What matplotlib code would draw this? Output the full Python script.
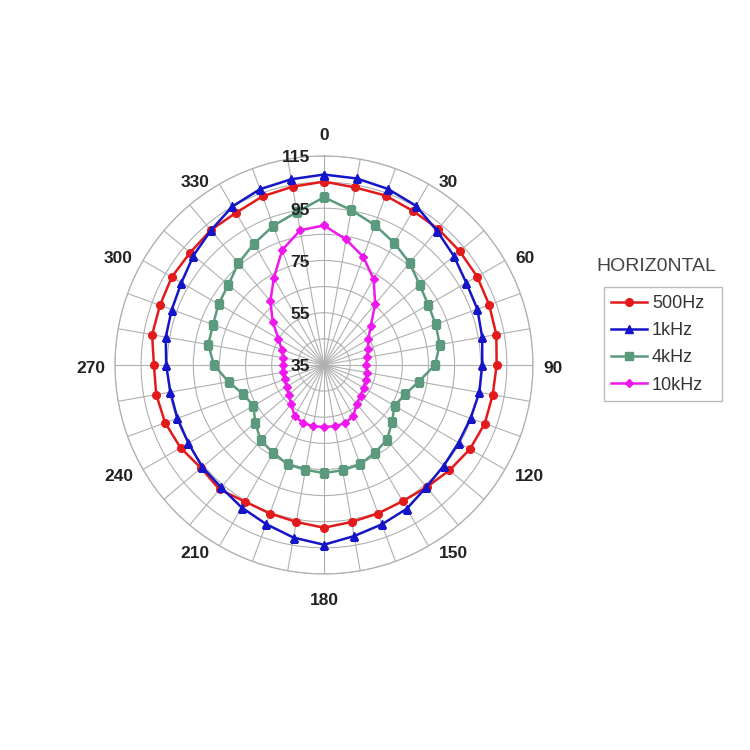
import numpy as np
import matplotlib
matplotlib.use("Agg")
import matplotlib.pyplot as plt

plt.rcParams['font.family'] = ['Liberation Sans', 'DejaVu Sans']

# ---- data -------------------------------------------------------------
angles_deg = list(range(0, 360, 10))

series_names = ["500Hz", "1kHz", "4kHz", "10kHz"]

spl_500hz = [105.2, 104.0, 104.0, 103.1, 103.0, 102.8, 102.7, 102.3, 102.0,
             101.1, 100.6, 100.5, 99.5, 97.7, 96.1, 95.2, 95.5, 96.0,
             97.3, 96.0, 95.5, 95.4, 97.2, 96.4, 98.4, 99.7, 100.2,
             100.1, 101.8, 101.8, 102.3, 101.9, 102.4, 102.3, 103.7, 104.3]

spl_1khz = [107.9, 107.5, 106.7, 105.4, 102.2, 99.9, 97.9, 97.5, 96.5,
            95.6, 95.4, 94.7, 94.5, 94.9, 96.0, 98.5, 99.9, 101.5,
            103.8, 102.1, 99.8, 98.0, 96.2, 95.8, 94.9, 94.7, 94.7,
            95.4, 96.5, 97.0, 98.0, 100.2, 102.3, 105.1, 106.6, 107.2]

spl_4khz = [99.2, 95.2, 92.0, 88.9, 86.0, 82.8, 81.1, 80.5, 80.0,
            77.5, 71.8, 68.0, 66.2, 69.0, 72.5, 73.8, 75.5, 75.9,
            76.4, 75.7, 75.5, 73.8, 72.7, 69.3, 66.2, 67.8, 72.1,
            77.1, 80.0, 80.2, 81.6, 82.8, 85.9, 88.6, 91.7, 94.5]

spl_10khz = [88.4, 83.8, 79.0, 73.0, 65.5, 58.4, 54.6, 52.9, 51.8,
             51.1, 51.8, 52.0, 52.5, 53.3, 54.5, 57.5, 58.7, 58.8,
             58.7, 58.8, 58.6, 57.5, 54.5, 52.7, 51.5, 51.0, 51.0,
             50.8, 50.8, 52.2, 55.1, 60.6, 66.9, 73.4, 81.8, 87.4]

radial_ticks = [35, 45, 55, 65, 75, 85, 95, 105, 115]
radial_labels = [35, 55, 75, 95, 115]
angle_labels = [0, 30, 60, 90, 120, 150, 180, 210, 240, 270, 300, 330]

legend_title = "HORIZ0NTAL"

# ---- styles -----------------------------------------------------------
colors = ["#e31a1c", "#1414c8", "#5b9a7d", "#ee18ee"]
markers = ["o", "^", "s", "D"]
msizes = [5.5, 6, 5.5, 4.5]
label_font = dict(fontsize=12.5, fontweight="bold", color="#222222")

fig = plt.figure(figsize=(7.5, 7.5), dpi=100)
fig.patch.set_facecolor("white")
ax = fig.add_axes([0.1533, 0.2347, 0.5573, 0.5573], projection="polar")
ax.set_theta_zero_location("N")
ax.set_theta_direction(-1)

theta = np.deg2rad(angles_deg + [angles_deg[0]])
all_series = [spl_500hz, spl_1khz, spl_4khz, spl_10khz]
handles = []
for name, vals, c, m, ms in zip(series_names, all_series, colors, markers, msizes):
    v = list(vals) + [vals[0]]
    ln, = ax.plot(theta, v, color=c, lw=1.8, marker=m, markersize=ms,
                  markeredgecolor=c, markerfacecolor=c, label=name, zorder=3)
    handles.append(ln)

ax.set_ylim(35, 115)
ax.set_rgrids(radial_ticks, labels=[""] * len(radial_ticks))
ax.set_thetagrids(angles_deg, labels=[""] * len(angles_deg))
ax.tick_params(axis="x", pad=0)

ax.grid(True, color="#b0b0b0", lw=0.8)
ax.spines["polar"].set_color("#b0b0b0")
ax.spines["polar"].set_linewidth(0.9)

# angle labels placed beside the outer ring (Excel radar style)
rmax = radial_ticks[-1]
for a in angle_labels:
    s, c = np.sin(np.deg2rad(a)), np.cos(np.deg2rad(a))
    if a == 0:
        off, ha = (0, 14.4), "center"
    elif a == 180:
        off, ha = (0, -18.9), "center"
    else:
        dx = 7.2 if s > 0 else -7.2
        ha = "left" if s > 0 else "right"
        if c > 0.1:
            dy = 1.4
        elif c < -0.1:
            dy = -5.4
        else:
            dy = -2.2
        off = (dx, dy)
    ax.annotate(str(a), xy=(np.deg2rad(a), rmax), xytext=off,
                textcoords="offset points", ha=ha, va="center",
                annotation_clip=False, **label_font)

for r in radial_labels:
    ax.annotate(str(r), xy=(0, r), xytext=(-10, -1.4), textcoords="offset points",
                ha="right", va="center", zorder=4, annotation_clip=False,
                **label_font)

leg = fig.legend(handles=handles, loc="upper left",
                 bbox_to_anchor=(0.805, 0.471, 0.158, 0.146), mode="expand",
                 borderaxespad=0,
                 fontsize=13, frameon=True, fancybox=False,
                 handlelength=1.95, labelspacing=0.57, handletextpad=0.3,
                 borderpad=0.42)
leg.get_frame().set_edgecolor("#aaaaaa")
leg.get_frame().set_linewidth(1.0)
for t in leg.get_texts():
    t.set_color("#333333")

fig.text(0.875, 0.645, legend_title, ha="center", va="center",
         fontsize=14, color="#444444")

fig.savefig("out.png", dpi=100, facecolor="white")
